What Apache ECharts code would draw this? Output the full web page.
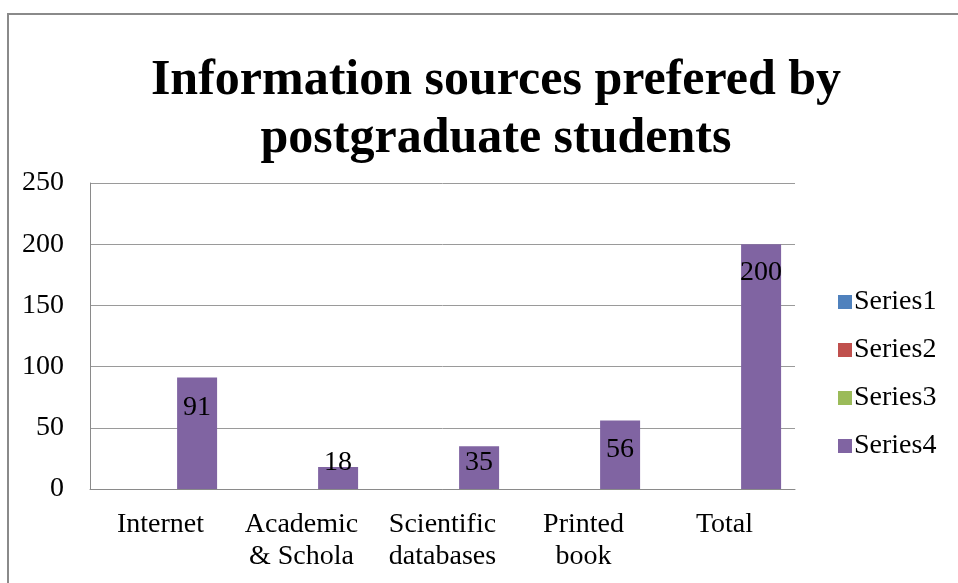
<!DOCTYPE html>
<html><head><meta charset="utf-8">
<script src="https://cdn.jsdelivr.net/npm/echarts@6/dist/echarts.min.js"></script>
<style>html,body{margin:0;padding:0;background:#fff}#c{width:958px;height:583px}</style>
</head><body><div id="c"></div>
<script>
const categories = ["Internet", "Academic & Schola", "Scientific databases", "Printed book", "Total"];
const seriesNames = ["Series1", "Series2", "Series3", "Series4"];
const series1 = [null, null, null, null, null];
const series2 = [null, null, null, null, null];
const series3 = [null, null, null, null, null];
const series4 = [91, 18, 35, 56, 200];
const yTicks = [0, 50, 100, 150, 200, 250];

const colors = ['#4F81BD', '#C0504D', '#9BBB59', '#8064A2'];
const labelShift = [16, -18, 2, 15, 14];
const font = "'Liberation Serif', 'Times New Roman', serif";

const chart = echarts.init(document.getElementById('c'), null, {renderer: 'canvas'});
const allData = [series1, series2, series3, series4];
chart.setOption({
  animation: false,
  color: colors,
  title: {
    text: 'Information sources prefered by\npostgraduate students',
    left: 491, top: 47, textAlign: 'center',
    textStyle: {fontFamily: font, fontWeight: 'bold', fontSize: 50, lineHeight: 58, color: '#000'}
  },
  graphic: [{
    type: 'rect', shape: {x: 8, y: 14, width: 1000, height: 1000},
    style: {fill: 'none', stroke: '#8a8a8a', lineWidth: 2}, silent: true
  }],
  legend: {
    orient: 'vertical', left: 833, top: 283, itemWidth: 14, itemHeight: 14, itemGap: 20,
    icon: 'rect', data: seriesNames,
    textStyle: {fontFamily: font, fontSize: 28, color: '#000', padding: [0, 0, 0, -3]}
  },
  grid: {left: 90, right: 163, top: 183, bottom: 94},
  xAxis: {
    type: 'category', data: categories,
    axisLine: {lineStyle: {color: '#8a8a8a', width: 1}},
    axisTick: {show: false},
    axisLabel: {
      fontFamily: font, fontSize: 28, lineHeight: 32, color: '#000', margin: 20, interval: 0,
      formatter: v => v.replace(' ', '\n')
    }
  },
  yAxis: {
    type: 'value', min: yTicks[0], max: yTicks[yTicks.length - 1], interval: yTicks[1] - yTicks[0],
    axisLine: {show: true, lineStyle: {color: '#8a8a8a', width: 1}},
    axisTick: {show: false},
    splitLine: {lineStyle: {color: '#9a9a9a', width: 1}},
    axisLabel: {fontFamily: font, fontSize: 28, color: '#000', margin: 26}
  },
  series: seriesNames.map((name, si) => ({
    name, type: 'bar', barWidth: 40, barGap: '-39%',
    data: allData[si].map((v, i) => si === 3 ? {
      value: v,
      label: {show: true, position: 'insideTop', distance: 0, offset: [0, labelShift[i]],
        fontFamily: font, fontSize: 28, lineHeight: 28, color: '#000'}
    } : v)
  }))
});
</script></body></html>
